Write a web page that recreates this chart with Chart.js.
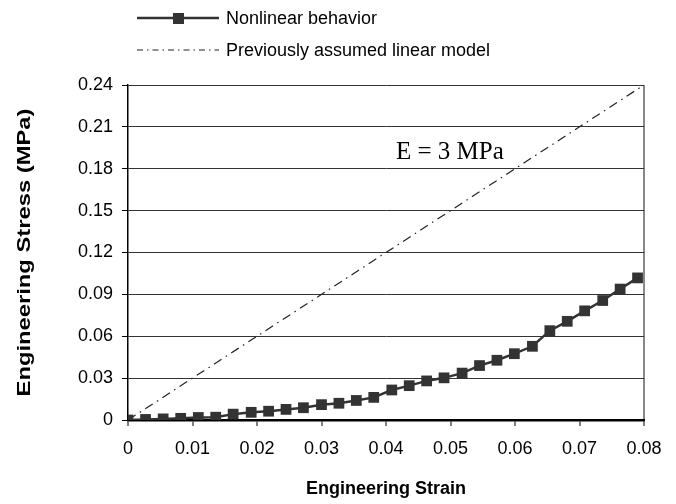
<!DOCTYPE html>
<html>
<head>
<meta charset="utf-8">
<script src="https://cdn.jsdelivr.net/npm/chart.js@4/dist/chart.umd.min.js"></script>
<style>
  html, body { margin: 0; padding: 0; background: #fff; }
  #wrap { width: 676px; height: 504px; }
</style>
</head>
<body>
<div id="wrap"><canvas id="grafico"></canvas></div>
<script>
// strain values of the measured points
const strain = [0, 0.00272, 0.00545, 0.00817, 0.0109, 0.0136, 0.0163, 0.0191, 0.0218, 0.0245,
  0.0272, 0.03, 0.0327, 0.0354, 0.0381, 0.0409, 0.0436, 0.0463, 0.049, 0.0518,
  0.0545, 0.0572, 0.0599, 0.0627, 0.0654, 0.0681, 0.0708, 0.0736, 0.0763, 0.079];
// measured stress (MPa)
const nonlinear = [0, 0.0004, 0.0008, 0.0012, 0.0018, 0.002, 0.0042, 0.0055, 0.0063, 0.0076,
  0.0088, 0.011, 0.012, 0.014, 0.0162, 0.0215, 0.0246, 0.028, 0.0302, 0.0336,
  0.039, 0.0428, 0.0475, 0.0528, 0.064, 0.0707, 0.0782, 0.0856, 0.0938, 0.1018];
// linear model E = 3 MPa
const linStrain = [0, 0.08];
const linStress = [0, 0.24];

const xTicks = [0, 0.01, 0.02, 0.03, 0.04, 0.05, 0.06, 0.07, 0.08];
const yTicks = [0, 0.03, 0.06, 0.09, 0.12, 0.15, 0.18, 0.21, 0.24];

const legendLabels = ["Nonlinear behavior", "Previously assumed linear model"];
const noteText = "E = 3 MPa";
const xTitle = "Engineering Strain";
const yTitle = "Engineering Stress (MPa)";

const fmt = (v) => (Math.abs(v) < 1e-9 ? "0" : v.toFixed(2));
const sans = "'Liberation Sans', Arial, sans-serif";

// legend drawn as two stacked rows, like the original
const legendaPlugin = {
  id: "legenda",
  afterDraw(chart) {
    const ctx = chart.ctx;
    ctx.save();
    const rows = [18, 50];
    chart.data.datasets.forEach((ds, i) => {
      const y = rows[i];
      ctx.strokeStyle = ds.borderColor;
      ctx.lineWidth = ds.borderWidth;
      ctx.setLineDash(i == 1 ? [6, 4, 1.5, 4] : []);
      ctx.beginPath();
      ctx.moveTo(137, y);
      ctx.lineTo(219, y);
      ctx.stroke();
      ctx.setLineDash([]);
      if (ds.pointRadius > 0) {
        ctx.fillStyle = ds.pointBackgroundColor;
        ctx.fillRect(173, y - 5, 11, 11);
      }
      ctx.fillStyle = "#000";
      ctx.font = "18px " + sans;
      ctx.textBaseline = "middle";
      ctx.textAlign = "left";
      ctx.fillText(legendLabels[i], 226, y + 1);
    });
    ctx.restore();
  },
};

// "E = 3 MPa" note and the (stretched) y axis title
const notaPlugin = {
  id: "nota",
  afterDatasetsDraw(chart) {
    const ctx = chart.ctx;
    const x = chart.scales.x.getPixelForValue(0.0499);
    const y = chart.scales.y.getPixelForValue(0.1867);
    ctx.save();
    ctx.fillStyle = "#000";
    ctx.font = "25px 'Liberation Serif', 'Times New Roman', serif";
    ctx.textAlign = "center";
    ctx.textBaseline = "alphabetic";
    ctx.fillText(noteText, x, y);
    ctx.restore();

    const yMid = (chart.chartArea.top + chart.chartArea.bottom) / 2;
    ctx.save();
    ctx.translate(25, yMid);
    ctx.rotate(-Math.PI / 2);
    ctx.scale(1.32, 1);
    ctx.font = "bold 18px " + sans;
    ctx.fillStyle = "#000";
    ctx.textAlign = "center";
    ctx.textBaseline = "middle";
    ctx.fillText(yTitle, 0, 0);
    ctx.restore();
  },
};

const ctx = document.getElementById("grafico").getContext("2d");
new Chart(ctx, {
  type: "scatter",
  data: {
    datasets: [
      {
        label: legendLabels[0],
        data: strain.map((s, i) => ({ x: s, y: nonlinear[i] })),
        showLine: true,
        borderColor: "#333",
        borderWidth: 2.5,
        pointStyle: "rect",
        pointRadius: 7.6,
        pointBackgroundColor: "#333",
        pointBorderColor: "#333",
        pointBorderWidth: 0,
      },
      {
        label: legendLabels[1],
        data: linStrain.map((s, i) => ({ x: s, y: linStress[i] })),
        showLine: true,
        borderColor: "#222",
        borderWidth: 1.2,
        borderDash: [9, 5, 1.5, 5],
        pointRadius: 0,
      },
    ],
  },
  options: {
    responsive: true,
    maintainAspectRatio: false,
    animation: false,
    layout: { padding: { top: 85, right: 32, left: 6, bottom: 0 } },
    plugins: { legend: { display: false }, tooltip: { enabled: false } },
    scales: {
      x: {
        type: "linear",
        min: 0,
        max: 0.08,
        afterBuildTicks: (s) => { s.ticks = xTicks.map((v) => ({ value: v })); },
        afterFit: (s) => { s.height = 84; },
        ticks: {
          callback: fmt,
          color: "#000",
          font: { family: sans, size: 18 },
          padding: 12,
          maxRotation: 0,
        },
        grid: {
          color: (c) => (c.tick && c.tick.value === 0.08 ? "#888" : "rgba(0,0,0,0)"),
          lineWidth: 2,
          tickColor: "#000",
          tickLength: 6,
          tickWidth: 1,
        },
        border: { color: "#000", width: 2.5 },
        title: {
          display: true,
          text: xTitle,
          color: "#000",
          font: { family: sans, size: 18, weight: "bold" },
          padding: { top: 10, bottom: 4 },
        },
      },
      y: {
        type: "linear",
        min: 0,
        max: 0.24,
        afterBuildTicks: (s) => { s.ticks = yTicks.map((v) => ({ value: v })); },
        afterFit: (s) => { s.width = 122; },
        ticks: {
          callback: fmt,
          color: "#000",
          font: { family: sans, size: 18 },
          padding: 9,
        },
        grid: {
          color: "#333",
          lineWidth: 1,
          tickColor: "#000",
          tickLength: 6,
        },
        border: { color: "#000", width: 1.5 },
        title: { display: false },
      },
    },
  },
  plugins: [legendaPlugin, notaPlugin],
});
</script>
</body>
</html>
